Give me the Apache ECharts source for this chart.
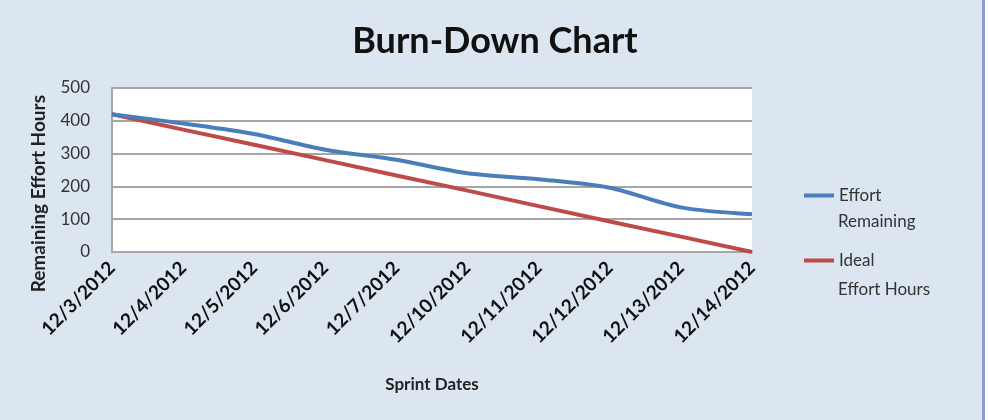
<!DOCTYPE html>
<html>
<head>
<meta charset="utf-8">
<script src="https://cdn.jsdelivr.net/npm/echarts@6/dist/echarts.min.js"></script>
<style>
    html, body { margin: 0; padding: 0; background: #fff; }
    #main {
        width: 982px; height: 420px;
        background: #dce6f1;
        border-right: 3px solid #8d9dd3;
    }
</style>
</head>
<body>
<div id="main"></div>
<script>
// sprint dates on the x axis
var sprintDates = ['12/3/2012', '12/4/2012', '12/5/2012', '12/6/2012', '12/7/2012',
    '12/10/2012', '12/11/2012', '12/12/2012', '12/13/2012', '12/14/2012'];
var effortRemaining = [420, 392, 360, 312, 281, 240, 222, 196, 136, 115];
var idealEffort = [420, 373, 327, 280, 233, 187, 140, 93, 47, 0];
var yTicks = [0, 100, 200, 300, 400, 500];

var font = 'Lato, "Open Sans", sans-serif';
var chart = echarts.init(document.getElementById('main'));

chart.setOption({
    animation: false,
    textStyle: { fontFamily: font },
    title: {
        text: 'Burn-Down Chart',
        left: 490, top: 18, textAlign: 'center',
        textStyle: { fontFamily: font, fontSize: 36, fontWeight: 'bold', color: '#111' }
    },
    // only the first line of each name sits next to the icon, like Excel
    legend: {
        orient: 'vertical',
        left: 804, top: 187, padding: 0,
        itemWidth: 30, itemHeight: 4, itemGap: 48,
        icon: 'rect',
        formatter: function(name) {
            return name.split(' ')[0];
        },
        textStyle: { fontSize: 17, color: '#333' },
        data: ['Effort Remaining', 'Ideal Effort Hours']
    },
    grid: {
        left: 112, top: 88, width: 640, height: 164,
        show: true, backgroundColor: '#fff', borderWidth: 0
    },
    xAxis: {
        type: 'category',
        data: sprintDates,
        boundaryGap: false,
        name: 'Sprint Dates',
        nameLocation: 'middle',
        nameGap: 124,
        nameTextStyle: { fontSize: 17, fontWeight: 'bold', color: '#222' },
        axisLine: { lineStyle: { color: '#a6a6a6', width: 2 } },
        axisTick: { show: false },
        axisLabel: {
            rotate: 45, fontSize: 19, fontWeight: 'bold', color: '#111',
            margin: 13, interval: 0
        }
    },
    yAxis: {
        type: 'value',
        min: yTicks[0], max: yTicks[yTicks.length - 1], interval: 100,
        axisLine: { show: true, lineStyle: { color: '#a6a6a6', width: 2 } },
        axisTick: { show: false },
        axisLabel: { fontSize: 17, color: '#333', margin: 22 },
        splitLine: { lineStyle: { color: '#a6a6a6', width: 2 } }
    },
    graphic: [{
        type: 'text',
        left: 29, top: 95,
        rotation: Math.PI / 2,
        style: {
            text: 'Remaining Effort Hours',
            font: 'bold 19px ' + font,
            fill: '#222'
        }
    }, {
        type: 'text',
        left: 838, top: 213,
        style: { text: 'Remaining', font: '17px ' + font, fill: '#333' }
    }, {
        type: 'text',
        left: 838, top: 281,
        style: { text: 'Effort Hours', font: '17px ' + font, fill: '#333' }
    }],
    series: [{
        name: 'Effort Remaining',
        type: 'line',
        data: effortRemaining,
        smooth: 0.3,
        showSymbol: false,
        z: 3,
        itemStyle: { color: '#4a7ebb' },
        lineStyle: { width: 4, color: '#4a7ebb' }
    }, {
        name: 'Ideal Effort Hours',
        type: 'line',
        data: idealEffort,
        showSymbol: false,
        z: 2,
        itemStyle: { color: '#be4b48' },
        lineStyle: { width: 4, color: '#be4b48' }
    }]
});
</script>
</body>
</html>
